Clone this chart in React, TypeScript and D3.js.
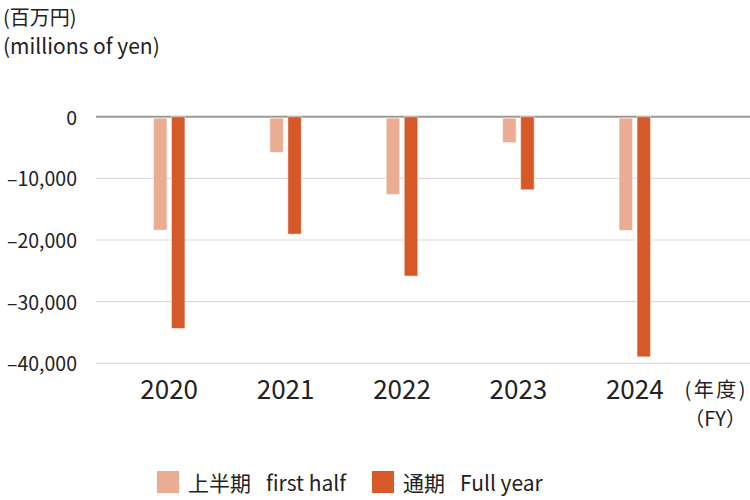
import { useEffect, useRef } from "react"
import * as d3 from "d3"

// fiscal years and values (millions of yen)
const years = ["2020", "2021", "2022", "2023", "2024"]
const firstHalf = [-18400, -5800, -12600, -4200, -18450]
const fullYear = [-34350, -19050, -25850, -11850, -38950]
const yTicks = [0, -10000, -20000, -30000, -40000]

const seriesJa = ["上半期", "通期"]
const seriesEn = ["first half", "Full year"]
const colors = ["#EAAC93", "#D55A27"]

const FONT = "'Noto Sans CJK JP', 'Noto Sans', sans-serif"

const App = () => {
  const ref = useRef<SVGSVGElement>(null)

  useEffect(() => {
    const svg = d3.select(ref.current)
    svg.selectAll("*").remove()

    const width = 750
    const height = 500

    const x = d3.scaleBand().domain(years).range([111, 693])
    const y = d3.scaleLinear().domain([0, -40000]).range([116.7, 363.3])

    // units
    svg.append("text").attr("x", 3).attr("y", 25).attr("font-size", 20).text("(百万円)")
    svg.append("text").attr("x", 3).attr("y", 54).attr("font-size", 21).text("(millions of yen)")

    // grid
    svg
      .append("g")
      .selectAll("line")
      .data(yTicks)
      .enter()
      .append("line")
      .attr("x1", 96)
      .attr("x2", width)
      .attr("y1", (d) => y(d))
      .attr("y2", (d) => y(d))
      .attr("stroke", (d) => (d === 0 ? "#999" : "#DCDCDC"))
      .attr("stroke-width", (d) => (d === 0 ? 2 : 1.2))

    svg
      .append("g")
      .selectAll("text")
      .data(yTicks)
      .enter()
      .append("text")
      .attr("x", 77)
      .attr("y", (d) => y(d) + 8)
      .attr("text-anchor", "end")
      .attr("font-size", 19.5)
      .text((d) => (d === 0 ? "0" : "\u2013" + d3.format(",")(-d)))

    // bars
    const barW = 13.5
    const series = [firstHalf, fullYear]
    series.forEach((vals, i) => {
      svg
        .append("g")
        .selectAll("rect")
        .data(vals)
        .enter()
        .append("rect")
        .attr("x", (_, j) => x(years[j])! + x.bandwidth() / 2 + (i === 0 ? -9 : 9) - barW / 2)
        .attr("y", y(0) + (i === 0 ? 1.5 : 0))
        .attr("width", barW)
        .attr("height", (d) => y(d) - y(0) - (i === 0 ? 1.5 : 0))
        .attr("fill", colors[i])
        .attr("stroke", "#fff")
        .attr("stroke-opacity", 0.5)
        .attr("stroke-width", 1)
    })

    // year labels
    svg
      .append("g")
      .selectAll("text")
      .data(years)
      .enter()
      .append("text")
      .attr("x", (d) => x(d)! + x.bandwidth() / 2)
      .attr("y", 399)
      .attr("text-anchor", "middle")
      .attr("font-size", 26)
      .attr("fill", "#111")
      .text((d) => d)

    svg
      .append("text")
      .attr("x", 748)
      .attr("y", 397)
      .attr("text-anchor", "end")
      .attr("font-size", 20)
      .attr("letter-spacing", 2.5)
      .text("(年度)")
    svg.append("text").attr("x", 746).attr("y", 426).attr("text-anchor", "end").attr("font-size", 20).text("（FY）")

    // legend
    const legend = svg.append("g")
    const legendX = [157, 372]
    seriesJa.forEach((name, i) => {
      legend
        .append("rect")
        .attr("x", legendX[i])
        .attr("y", 471)
        .attr("width", 22)
        .attr("height", 22)
        .attr("fill", colors[i])
      const t = legend
        .append("text")
        .attr("x", legendX[i] + 31)
        .attr("y", 491)
        .attr("font-size", 21)
      t.append("tspan").text(name)
      t.append("tspan").attr("dx", 15).text(seriesEn[i])
    })

    svg.selectAll("text").attr("font-family", FONT).attr("fill", "#222")
    svg.attr("width", width).attr("height", height)
  }, [])

  return (
    <div style={{ position: "absolute", left: 0, top: 0 }}>
      <svg ref={ref} style={{ display: "block", background: "#fff" }}></svg>
    </div>
  )
}

export default App
